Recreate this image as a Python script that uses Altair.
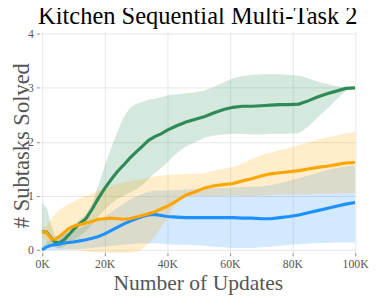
import altair as alt
import pandas as pd

# x positions in thousands of updates
X_K = [0, 1.5, 3, 4, 5.5, 7, 8.5, 10, 12, 14, 16, 18, 20, 22, 24, 26, 28, 30, 32, 34, 36, 38, 40,
       43, 46, 49, 52, 55, 58, 61, 64, 67, 70, 73, 76, 79, 82, 85, 88, 91, 94, 97, 100]

green_mean = [0.34, 0.33, 0.22, 0.15, 0.13, 0.19, 0.28, 0.38, 0.49, 0.58, 0.76, 0.96, 1.14, 1.30, 1.45,
              1.57, 1.70, 1.81, 1.92, 2.03, 2.10, 2.15, 2.22, 2.30, 2.37, 2.42, 2.47, 2.54, 2.60, 2.64,
              2.66, 2.66, 2.67, 2.68, 2.69, 2.69, 2.70, 2.76, 2.83, 2.89, 2.94, 2.99, 3.00]
green_hi = [0.87, 0.78, 0.45, 0.28, 0.22, 0.30, 0.38, 0.47, 0.56, 0.66, 0.85, 1.20, 1.55, 1.88, 2.18,
            2.45, 2.63, 2.70, 2.74, 2.78, 2.80, 2.83, 2.86, 2.88, 2.90, 2.92, 2.95, 3.02, 3.10, 3.18,
            3.22, 3.24, 3.25, 3.25, 3.25, 3.24, 3.23, 3.18, 3.12, 3.07, 3.03, 3.01, 3.00]
green_lo = [0.00, 0.05, 0.08, 0.05, 0.03, 0.06, 0.12, 0.18, 0.25, 0.35, 0.48, 0.62, 0.75, 0.85, 0.94,
            1.00, 1.06, 1.12, 1.20, 1.32, 1.42, 1.52, 1.62, 1.79, 1.92, 2.00, 2.08, 2.12, 2.14, 2.15,
            2.15, 2.14, 2.14, 2.15, 2.15, 2.15, 2.16, 2.28, 2.45, 2.61, 2.78, 2.94, 3.00]

orange_mean = [0.34, 0.32, 0.20, 0.20, 0.25, 0.32, 0.40, 0.44, 0.47, 0.50, 0.53, 0.57, 0.58, 0.59, 0.58,
               0.57, 0.58, 0.61, 0.64, 0.67, 0.71, 0.76, 0.81, 0.91, 1.02, 1.08, 1.15, 1.19, 1.21, 1.23,
               1.28, 1.32, 1.37, 1.41, 1.43, 1.45, 1.47, 1.50, 1.53, 1.55, 1.58, 1.61, 1.62]
orange_hi = [0.42, 0.45, 0.58, 0.65, 0.74, 0.80, 0.85, 0.90, 0.96, 1.00, 1.05, 1.10, 1.14, 1.18, 1.22,
             1.25, 1.27, 1.29, 1.31, 1.34, 1.36, 1.38, 1.39, 1.40, 1.41, 1.41, 1.42, 1.47, 1.50, 1.54,
             1.60, 1.68, 1.76, 1.80, 1.85, 1.89, 1.94, 1.99, 2.04, 2.08, 2.12, 2.16, 2.18]
orange_lo = [0.25, 0.12, 0.05, 0.05, 0.03, 0.02, 0.02, 0.01, 0.00, -0.02, -0.04, -0.05, -0.06, -0.06, -0.06,
             -0.06, -0.05, -0.03, 0.02, 0.12, 0.24, 0.42, 0.60, 0.88, 1.00, 1.00, 1.00, 1.00, 1.00, 1.01,
             1.00, 1.00, 1.01, 1.02, 1.03, 1.03, 1.03, 1.03, 1.04, 1.04, 1.04, 1.05, 1.05]

blue_mean = [0.00, 0.06, 0.09, 0.10, 0.11, 0.13, 0.14, 0.15, 0.17, 0.19, 0.22, 0.25, 0.30, 0.36, 0.42,
             0.48, 0.53, 0.58, 0.62, 0.65, 0.66, 0.64, 0.62, 0.61, 0.60, 0.60, 0.60, 0.60, 0.60, 0.60,
             0.59, 0.59, 0.58, 0.58, 0.60, 0.62, 0.65, 0.69, 0.73, 0.77, 0.81, 0.85, 0.88]
blue_hi = [0.05, 0.15, 0.20, 0.22, 0.25, 0.28, 0.32, 0.36, 0.40, 0.45, 0.50, 0.56, 0.62, 0.70, 0.78,
           0.86, 0.93, 0.99, 1.04, 1.08, 1.10, 1.10, 1.10, 1.11, 1.12, 1.13, 1.14, 1.15, 1.15, 1.16,
           1.16, 1.17, 1.18, 1.20, 1.24, 1.28, 1.33, 1.38, 1.43, 1.48, 1.52, 1.55, 1.57]
blue_lo = [0.00, 0.00, 0.00, 0.00, 0.00, 0.00, 0.01, 0.01, 0.02, 0.03, 0.04, 0.05, 0.06, 0.08, 0.09,
           0.10, 0.11, 0.12, 0.12, 0.12, 0.12, 0.12, 0.11, 0.10, 0.10, 0.09, 0.08, 0.06, 0.05, 0.04,
           0.04, 0.04, 0.05, 0.06, 0.08, 0.10, 0.11, 0.12, 0.13, 0.13, 0.14, 0.14, 0.14]

SERIES = ["green", "blue", "orange"]
COLORS = ["#2E8B57", "#1E90FF", "#FFA500"]
X_TICKS = [0, 20000, 40000, 60000, 80000, 100000]
Y_TICKS = [0, 1, 2, 3, 4]

table = {"green": (green_mean, green_lo, green_hi),
         "orange": (orange_mean, orange_lo, orange_hi),
         "blue": (blue_mean, blue_lo, blue_hi)}
rows = []
for order, name in enumerate(SERIES):
    m, lo, hi = table[name]
    for xk, a, b, c in zip(X_K, m, lo, hi):
        rows.append({"series": name, "order": order, "x": xk * 1000, "mean": a, "lo": b, "hi": c})
df = pd.DataFrame(rows)

FONT = "Liberation Serif, Times New Roman, serif"
xs = alt.Scale(domain=[-900, 100400], nice=False, zero=False)
ys = alt.Scale(domain=[-0.05, 4.04], nice=False, zero=False)
cs = alt.Scale(domain=SERIES, range=COLORS)

x_axis = alt.Axis(values=X_TICKS, labelExpr="datum.value/1000 + 'K'",
                  title="Number of Updates", titleFontSize=22,
                  titleBaseline="alphabetic", titleY=37.5, titleAnchor="middle")
y_axis = alt.Axis(values=Y_TICKS, title="# Subtasks Solved", titleFontSize=23,
                  titleBaseline="alphabetic", titleAngle=270, titleX=-11.5, titleY=116,
                  titleAnchor="middle")

base = alt.Chart(df)
bands = base.mark_area(opacity=0.2, clip=True).encode(
    x=alt.X("x:Q", scale=xs, axis=x_axis),
    y=alt.Y("lo:Q", scale=ys, axis=y_axis),
    y2="hi:Q",
    color=alt.Color("series:N", scale=cs, legend=None),
    detail="series:N",
)
lines = base.mark_line(strokeWidth=3.2, clip=True).encode(
    x=alt.X("x:Q", scale=xs, axis=x_axis),
    y=alt.Y("mean:Q", scale=ys, axis=y_axis),
    color=alt.Color("series:N", scale=cs, legend=None),
    detail="series:N",
)

chart = alt.layer(bands, lines).properties(
    width=324, height=226,
    background="white",
    autosize=alt.AutoSizeParams(type="none"),
    padding={"left": 32, "top": 21, "right": 15, "bottom": 41},
    title=alt.TitleParams("Kitchen Sequential Multi-Task 2", font=FONT, fontSize=25,
                          fontWeight="normal", color="black", offset=4, dy=5,
                          anchor="middle"),
).configure_view(stroke=None).configure_axis(
    labelFont=FONT, labelFontSize=12, labelColor="#555555",
    titleFont=FONT, titleFontWeight="normal", titleColor="#555555",
    gridColor="#e6e6e6", gridWidth=1, domain=False,
    tickColor="#888888", tickSize=3, labelPadding=3,
)

chart.save("out.html", embed_options={"renderer": "svg", "actions": False})
